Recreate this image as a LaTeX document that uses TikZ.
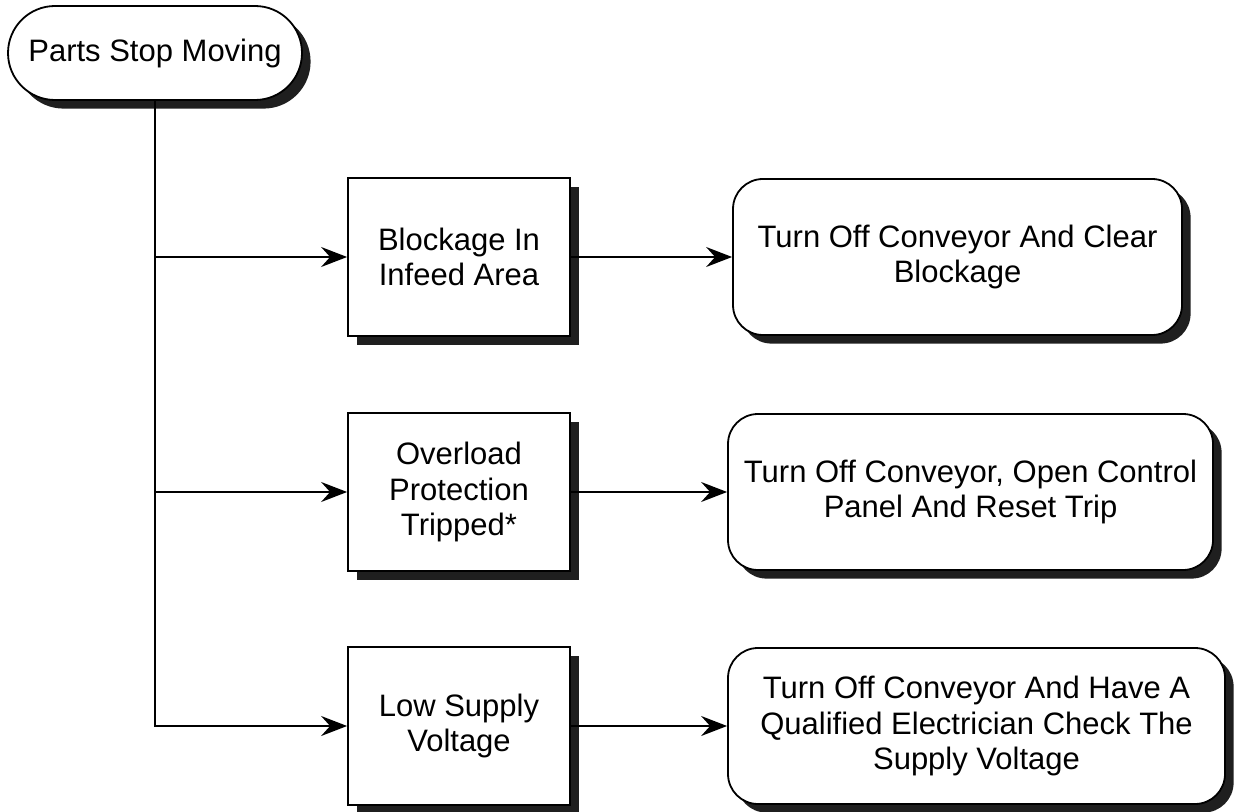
\documentclass[tikz,border=0pt]{standalone}
\usepackage{fontspec}
\setmainfont{Liberation Sans}
\usetikzlibrary{arrows.meta,shadows}
\begin{document}
\begin{tikzpicture}[x=0.5pt, y=-0.5pt, line width=0.9pt,
  >={Stealth[length=13pt,width=10pt,inset=4.5pt]},
  every node/.style={draw, fill=white, align=center, inner sep=0pt,
    font=\fontsize{15.5}{17.7}\selectfont,
    drop shadow={shadow xshift=4.3pt, shadow yshift=-4.3pt, fill=black!88, opacity=1}},
  cause/.style={minimum width=111pt, minimum height=79pt},
  fix/.style={rounded corners=15pt, minimum height=78pt}]
\useasboundingbox (0,0) rectangle (1235,812);
\node[rounded corners=23.5pt, minimum width=147pt, minimum height=47pt] (start) at (155,53) {Parts Stop Moving};
\node[cause] (m1) at (459,257) {Blockage In\\Infeed Area};
\node[cause] (m2) at (459,492) {Overload\\Protection\\Tripped*};
\node[cause] (m3) at (459,726) {Low Supply\\Voltage};
\node[fix, minimum width=224.5pt] (r1) at (957.5,257) {Turn Off Conveyor And Clear\\Blockage};
\node[fix, minimum width=242.5pt] (r2) at (970.5,492) {Turn Off Conveyor, Open Control\\Panel And Reset Trip};
\node[fix, minimum width=248.5pt] (r3) at (976.5,726) {Turn Off Conveyor And Have A\\Qualified Electrician Check The\\Supply Voltage};
\draw[->] (start) |- (m3);
\draw[->] (start.south |- m1) -- (m1);
\draw[->] (start.south |- m2) -- (m2);
\draw[->] (m1) -- (r1);
\draw[->] (m2) -- (r2);
\draw[->] (m3) -- (r3);
\end{tikzpicture}
\end{document}
